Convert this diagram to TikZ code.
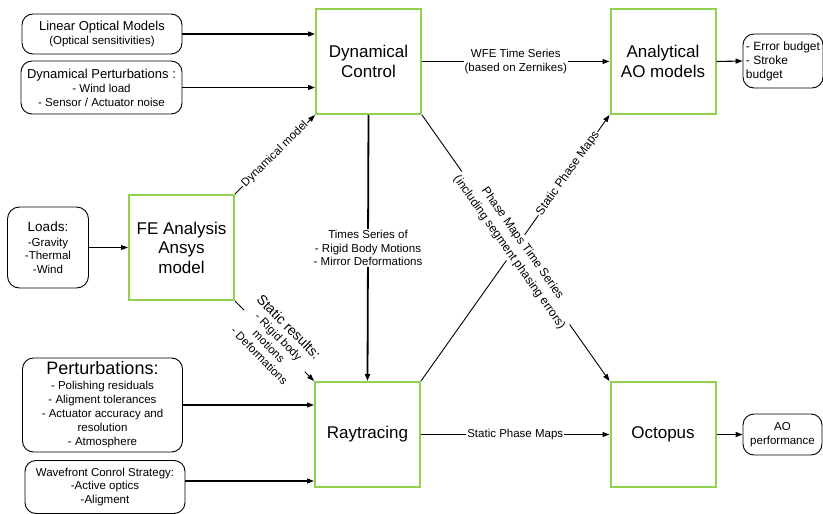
\documentclass[tikz,border=0pt]{standalone}
\usepackage{fontspec}
\setmainfont{Liberation Sans}
\usetikzlibrary{arrows.meta}
\definecolor{boxgreen}{RGB}{146,208,80}
\newcommand{\fsz}[2]{\fontsize{#1}{#2}\selectfont}
\begin{document}
\begin{tikzpicture}[x=1pt,y=-1pt,
  gbox/.style={draw=boxgreen, line width=2pt, minimum width=105pt, minimum height=105pt, inner sep=0pt, align=center, font=\fsz{17}{19.5}},
  rbox/.style={draw=black, line width=0.9pt, rounded corners=11pt, inner sep=0pt, align=center, font=\fsz{11.5}{13.5}},
  conn/.style={line width=1.1pt, -{Triangle[length=7pt,width=5pt]}},
  lbl/.style={fill=white, inner sep=1pt, align=center, font=\fsz{11.5}{13.5}},
]
\useasboundingbox (0,0) rectangle (823,514);
% main boxes
\node[gbox] (dc) at (368.5,61.5) {Dynamical\\Control};
\node[gbox] (ao) at (663,61.5) {Analytical\\AO models};
\node[gbox] (fe) at (181.5,247.5) {FE Analysis\\Ansys\\model};
\node[gbox] (rt) at (367.5,434.5) {Raytracing};
\node[gbox] (oc) at (663,434.5) {Octopus};
% rounded boxes
\node[rbox, minimum width=160pt, minimum height=40pt] (lom) at (102,34)
  {{\fsz{13}{15}Linear Optical Models}\\[1pt](Optical sensitivities)};
\node[rbox, minimum width=161pt, minimum height=53pt] (dp) at (101.5,87.5)
  {{\fsz{13}{15}Dynamical Perturbations :}\\[1pt]- Wind load\\- Sensor / Actuator noise};
\node[rbox, rounded corners=12pt, minimum width=81pt, minimum height=81pt] (loads) at (48,247.5)
  {{\fsz{13.5}{15}Loads:}\\[1pt]-Gravity\\-Thermal\\-Wind};
\node[rbox, minimum width=160pt, minimum height=94pt, font=\fsz{11.5}{14}] (pert) at (102.5,405)
  {{\fsz{18}{20}Perturbations:}\\[1pt]- Polishing residuals\\- Aligment tolerances\\- Actuator accuracy and\\resolution\\- Atmosphere};
\node[rbox, minimum width=160pt, minimum height=53pt] (wave) at (105,487)
  {Wavefront Conrol Strategy:\\-Active optics\\-Aligment};
\node[rbox, align=left, minimum width=80pt, minimum height=54pt, font=\fsz{12}{14}] (err) at (783,61)
  {- Error budget\\- Stroke\\budget};
\node[rbox, minimum width=79pt, minimum height=41pt] (aop) at (782.5,434.5)
  {AO\\performance};
% connectors
\draw[conn] (lom.east) -- (lom.east -| dc.west);
\draw[conn] (dp.east) -- (dp.east -| dc.west);
\draw[conn] (loads.east) -- (fe.west);
\draw[conn, line width=0.9pt] (fe.north east) -- node[lbl, sloped] {Dynamical model} (dc.south west);
\draw[conn, line width=0.9pt] (fe.south east) -- node[lbl, sloped]
  {{\fsz{14}{16}Static results:}\\- Rigid body\\motions\\- Deformations} (rt.north west);
\draw[conn, line width=1.8pt] (dc.south) -- node[lbl]
  {Times Series of\\- Rigid Body Motions\\- Mirror Deformations} (rt.north);
\draw[conn] (dc.east) -- node[lbl] {WFE Time Series\\(based on Zernikes)} (ao.west);
\draw[conn, line width=0.9pt] (rt.north east) -- node[lbl, sloped, pos=0.78, font=\fsz{12}{14}] {Static Phase Maps} (ao.south west);
\draw[conn, line width=0.9pt] (dc.south east) -- node[lbl, sloped, font=\fsz{12}{16}]
  {Phase Maps Time Series\\(including segment phasing errors)} (oc.north west);
\draw[conn] (rt.east) -- node[lbl] {Static Phase Maps} (oc.west);
\draw[conn] (pert.east) -- (pert.east -| rt.west);
\draw[conn] ([yshift=6pt]wave.east) -- ([yshift=6pt]wave.east -| rt.west);
\draw[conn] (ao.east) -- (err.west);
\draw[conn] (oc.east) -- (aop.west);
\end{tikzpicture}
\end{document}
